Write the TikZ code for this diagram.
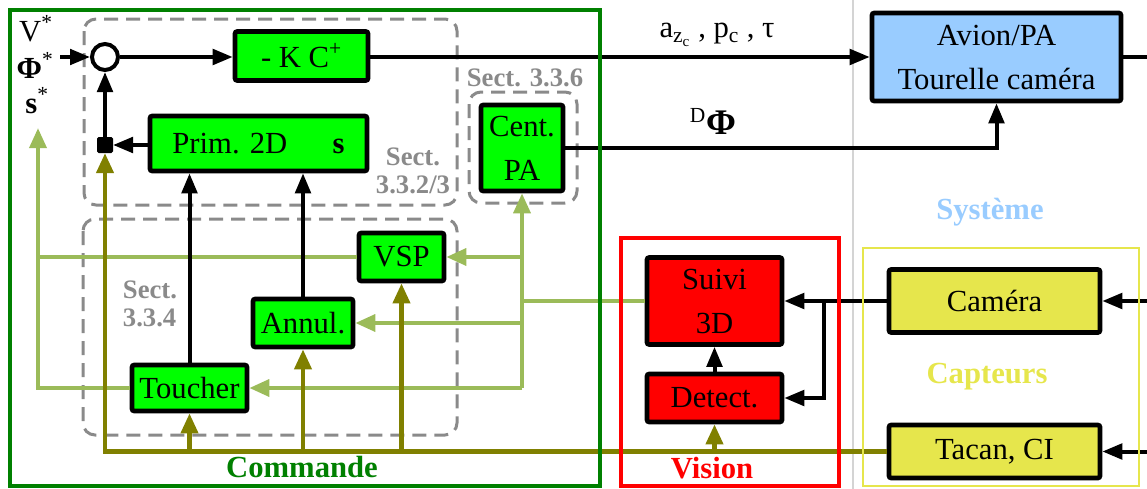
\documentclass[tikz,border=0pt]{standalone}
\usepackage{fontspec}
\setmainfont{Liberation Serif}
\usetikzlibrary{arrows.meta,calc}
\definecolor{cgreen}{HTML}{00FF00}
\definecolor{dkgreen}{HTML}{008000}
\definecolor{lgreen}{HTML}{9BBB59}
\definecolor{oliv}{HTML}{808000}
\definecolor{skyb}{HTML}{99CCFF}
\definecolor{yel}{HTML}{E6E64C}
\definecolor{gry}{HTML}{8A8A8A}
\definecolor{lgry}{HTML}{D4D4D4}
\begin{document}
\begin{tikzpicture}[x=0.75pt,y=-0.75pt,
  blk/.style={draw=black, line width=3.4pt, rounded corners=1.5pt, inner sep=0pt, align=center, font=\fontsize{23}{33}\selectfont},
  gbox/.style={blk, fill=cgreen},
  rbox/.style={blk, fill=red},
  ybox/.style={blk, fill=yel},
  bbox/.style={blk, fill=skyb},
  lab/.style={inner sep=0pt, font=\fontsize{23}{33}\selectfont},
  sect/.style={inner sep=0pt, text=gry, align=center, font=\bfseries\fontsize{20}{21.5}\selectfont},
  title/.style={inner sep=0pt, font=\bfseries\fontsize{23}{28}\selectfont},
  bkl/.style={line width=3pt},
  bk/.style={bkl, -{Triangle[length=15pt,width=11.5pt]}},
  lg/.style={draw=lgreen, line width=3.2pt},
  lga/.style={lg, -{Triangle[length=15pt,width=12.5pt]}},
  ol/.style={draw=oliv, line width=3.5pt},
  ola/.style={ol, -{Triangle[length=15pt,width=12.5pt]}},
  dsh/.style={draw=gry, line width=2.25pt, dash pattern=on 10.5pt off 6pt, rounded corners=9pt},
  frame/.style={line width=3.3pt}
]
\useasboundingbox (0,0) rectangle (1147,489);

% separator line
\draw[lgry, line width=0.9pt] (853,0) -- (853,489);

% dashed grouping boxes
\draw[dsh] (84,19) rectangle (457,205);
\draw[dsh] (83,219) rectangle (457,435);
\draw[dsh] (469,92) rectangle (577,203);

% nodes
\node[circle, draw=black, line width=3pt, fill=white, minimum size=19.5pt, inner sep=0pt] (sum) at (105,57) {};
\node[draw=black, fill=black, line width=1pt, minimum size=11pt, inner sep=0pt, rounded corners=1pt] (junc) at (105,145) {};
\node[gbox, minimum width=99.75pt, minimum height=36.75pt] (kc) at (301.5,56) {- K C\textsuperscript{+}};
\node[gbox, minimum width=162.75pt, minimum height=41.25pt] (prim) at (258.5,143.5) {Prim. 2D\hspace{34pt}\textbf{s}};
\node[gbox, minimum width=61.5pt, minimum height=64.5pt] (cent) at (522,148) {Cent.\\PA};
\node[bbox, minimum width=186.75pt, minimum height=66pt] (avion) at (996.5,57) {Avion/PA\\Tourelle caméra};
\node[gbox, minimum width=86.25pt, minimum height=34.5pt] (toucher) at (189.5,388) {Toucher};
\node[gbox, minimum width=75pt, minimum height=36pt] (annul) at (303,323) {Annul.};
\node[gbox, minimum width=63.75pt, minimum height=36pt] (vsp) at (401.5,257) {VSP};
\node[rbox, minimum width=101.25pt, minimum height=65.25pt] (suivi) at (714.5,301) {Suivi\\3D};
\node[rbox, minimum width=101.25pt, minimum height=36pt] (detect) at (714.5,398) {Detect.};
\node[ybox, minimum width=158.25pt, minimum height=47.25pt] (camera) at (994.5,301) {Caméra};
\node[ybox, minimum width=158.25pt, minimum height=39.75pt] (tacan) at (994.5,451.5) {Tacan, CI};

% input labels
\node[lab] (vstar) at (36,29) {V\textsuperscript{*}};
\node[lab] (phistar) at (35,65) {\textbf{Φ}\textsuperscript{*}};
\node[lab] (sstar) at (37,101) {\textbf{s}\textsuperscript{*}};

% signal labels
\node[lab] (sig1) at (717,35) {a\textsubscript{z\textsubscript{c}} , p\textsubscript{c} , τ};
\node[lab] (sig2) at (713,121) {\textsuperscript{D}\textbf{\fontsize{27}{30}\selectfont Φ}};

% section labels
\node[sect] (s1) at (525,78) {Sect. 3.3.6};
\node[sect] (s2) at (413,171) {Sect.\\3.3.2/3};
\node[sect, align=left] (s3) at (150,304) {Sect.\\3.3.4};

% group titles
\node[title, text=dkgreen] (tc) at (302,467) {Commande};
\node[title, text=red] (tv) at (712,468) {Vision};
\node[title, text=skyb] (ts) at (990,212) {Système};
\node[title, text=yel] (tk) at (987,377) {Capteurs};

% light green connectors
\coordinate (sin) at (38,128);
\draw[lga] (suivi.west) -| (cent.south);
\draw[lg] (cent.south |- toucher.east) -- (cent.south |- suivi.west);
\draw[lga] (cent.south |- vsp.east) -- (vsp.east);
\draw[lga] (cent.south |- annul.east) -- (annul.east);
\draw[lga] (cent.south |- toucher.east) -- (toucher.east);
\draw[lg] (vsp.west) -- (vsp.west -| sin);
\draw[lga] (toucher.west) -| (sin);

% olive connectors
\draw[ola] (tacan.west) -| (junc.south);
\draw[ola] (toucher.south |- tacan.west) -- (toucher.south);
\draw[ola] (annul.south |- tacan.west) -- (annul.south);
\draw[ola] (vsp.south |- tacan.west) -- (vsp.south);
\draw[ola] (detect.south |- tacan.west) -- (detect.south);

% black connectors
\coordinate (phin) at (60,57);
\draw[bk] (phin) -- (sum.west);
\draw[bk] (sum.east) -- (kc.west |- sum.east);
\draw[bk] (kc.east |- sum.east) -- (avion.west |- sum.east);
\coordinate (rA) at (1147,57);
\draw[bkl] (avion.east |- rA) -- (rA);
\draw[bk] (cent.east) -| (avion.south);
\draw[bk] (prim.west |- junc) -- (junc.east);
\draw[bk] (junc.north) -- (sum.south);
\draw[bk] (toucher.north) -- (toucher.north |- prim.south);
\draw[bk] (annul.north) -- (annul.north |- prim.south);
\draw[bk] (camera.west) -- (suivi.east);
\draw[bk] (camera.west) ++(-63,0) |- (detect.east);
\draw[bk] (detect.north) -- (suivi.south);
\coordinate (rC) at (1147,301);
\coordinate (rT) at (1147,451.5);
\draw[bk] (rC) -- (camera.east);
\draw[bk] (rT) -- (tacan.east);

% frames
\draw[frame, draw=dkgreen] (10,10) rectangle (600,486);
\draw[frame, draw=red] (621,238) rectangle (839,486);
\draw[draw=yel, line width=1.6pt] (863,248) rectangle (1139,486);
\end{tikzpicture}
\end{document}
